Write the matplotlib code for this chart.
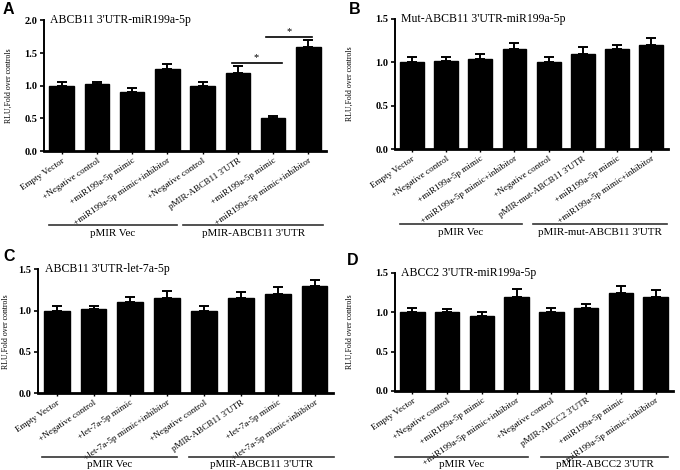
import matplotlib
matplotlib.use("Agg")
import matplotlib.pyplot as plt
import matplotlib.transforms as mtransforms

# ---------------- data ----------------
labels_A = ["Empty Vector", "+Negative control", "+miR199a-5p mimic", "+miR199a-5p mimic+inhibitor",
            "+Negative control", "pMIR-ABCB11 3'UTR", "+miR199a-5p mimic", "+miR199a-5p mimic+inhibitor"]
values_A = [1.0, 1.02, 0.9, 1.25, 1.0, 1.2, 0.5, 1.6]
errors_A = [0.06, 0.04, 0.06, 0.09, 0.06, 0.1, 0.03, 0.1]

labels_B = ["Empty Vector", "+Negative control", "+miR199a-5p mimic", "+miR199a-5p mimic+inhibitor",
            "+Negative control", "pMIR-mut-ABCB11 3'UTR", "+miR199a-5p mimic", "+miR199a-5p mimic+inhibitor"]
values_B = [1.0, 1.015, 1.04, 1.15, 1.0, 1.1, 1.15, 1.2]
errors_B = [0.055, 0.04, 0.06, 0.07, 0.06, 0.08, 0.05, 0.075]

labels_C = ["Empty Vector", "+Negative control", "+let-7a-5p mimic", "+let-7a-5p mimic+inhibitor",
            "+Negative control", "pMIR-ABCB11 3'UTR", "+let-7a-5p mimic", "+let-7a-5p mimic+inhibitor"]
values_C = [1.0, 1.02, 1.1, 1.155, 1.0, 1.155, 1.2, 1.3]
errors_C = [0.06, 0.04, 0.06, 0.08, 0.06, 0.065, 0.08, 0.075]

labels_D = ["Empty Vector", "+Negative control", "+miR199a-5p mimic", "+miR199a-5p mimic+inhibitor",
            "+Negative control", "pMIR-ABCC2 3'UTR", "+miR199a-5p mimic", "+miR199a-5p mimic+inhibitor"]
values_D = [1.0, 1.0, 0.95, 1.2, 1.0, 1.05, 1.25, 1.2]
errors_D = [0.06, 0.04, 0.055, 0.09, 0.05, 0.06, 0.09, 0.085]

titles = ["ABCB11 3'UTR-miR199a-5p", "Mut-ABCB11 3'UTR-miR199a-5p",
          "ABCB11 3'UTR-let-7a-5p", "ABCC2 3'UTR-miR199a-5p"]
groups_A = ["pMIR Vec", "pMIR-ABCB11 3'UTR"]
groups_B = ["pMIR Vec", "pMIR-mut-ABCB11 3'UTR"]
groups_C = ["pMIR Vec", "pMIR-ABCB11 3'UTR"]
groups_D = ["pMIR Vec", "pMIR-ABCC2 3'UTR"]
panel_letters = ["A", "B", "C", "D"]
ylabel = "RLU,Fold over controls"

# ---------------- figure ----------------
fig = plt.figure(figsize=(6.8, 4.7), dpi=100)
SERIF = ["Liberation Serif", "DejaVu Serif"]

panels = [
    dict(rect=[0.0647, 0.6787, 0.4147, 0.2779], labels=labels_A, vals=values_A, errs=errors_A,
         ymax=2.0, groups=groups_A, gl=[(-0.37, 3.26), (3.45, 7.42)], gy=-0.567, gty=-0.63,
         ylx=-0.11, title=titles[0]),
    dict(rect=[0.5809, 0.6823, 0.4015, 0.2779], labels=labels_B, vals=values_B, errs=errors_B,
         ymax=1.5, groups=groups_B, gl=[(-0.36, 3.21), (3.55, 7.46)], gy=-0.572, gty=-0.64,
         ylx=-0.15, title=titles[1]),
    dict(rect=[0.0563, 0.1632, 0.4334, 0.2638], labels=labels_C, vals=values_C, errs=errors_C,
         ymax=1.5, groups=groups_C, gl=[(-0.40, 3.27), (3.59, 7.53)], gy=-0.511, gty=-0.575,
         ylx=-0.098, title=titles[2]),
    dict(rect=[0.5809, 0.1681, 0.4088, 0.2511], labels=labels_D, vals=values_D, errs=errors_D,
         ymax=1.5, groups=groups_D, gl=[(-0.5, 3.32), (3.69, 7.37)], gy=-0.559, gty=-0.625,
         ylx=-0.15, title=titles[3]),
]

axes = []
for p in panels:
    ax = fig.add_axes(p["rect"])
    axes.append(ax)
    x = list(range(len(p["vals"])))
    ax.bar(x, p["vals"], width=0.7, color="black", edgecolor="black", zorder=2)
    ax.errorbar(x, p["vals"], yerr=[[0] * len(x), p["errs"]], fmt="none", ecolor="black",
                elinewidth=1.4, capsize=3.6, capthick=1.4, zorder=3)
    ax.set_xlim(-0.5, 7.5)
    ax.set_ylim(0, p["ymax"])
    yt = [i * 0.5 for i in range(int(round(p["ymax"] / 0.5)) + 1)]
    ax.set_yticks(yt)
    ax.set_yticklabels([f"{v:.1f}" for v in yt], fontfamily=SERIF, fontweight="bold", fontsize=7.5)
    ax.set_xticks(x)
    ax.set_xticklabels(p["labels"], rotation=34, ha="right", va="top", rotation_mode="anchor",
                       fontfamily=SERIF, fontsize=6.6)
    ax.tick_params(axis="x", length=2.5, width=1.0, pad=1.5)
    ax.tick_params(axis="y", length=3, width=1.2, pad=2)
    for s in ["top", "right"]:
        ax.spines[s].set_visible(False)
    ax.spines["left"].set_linewidth(1.4)
    ax.spines["bottom"].set_linewidth(2.0)
    ax.set_ylabel(ylabel, fontfamily=SERIF, fontsize=5.6)
    ax.yaxis.set_label_coords(p["ylx"], 0.5)
    ax.text(0.022, 1.0, p["title"], transform=ax.transAxes, ha="left", va="center",
            fontfamily=SERIF, fontsize=8.5)
    trans = mtransforms.blended_transform_factory(ax.transData, ax.transAxes)
    for (x0, x1), g in zip(p["gl"], p["groups"]):
        ax.plot([x0, x1], [p["gy"], p["gy"]], transform=trans, color="#333333", lw=1.2,
                clip_on=False)
        ax.text((x0 + x1) / 2, p["gty"], g, transform=trans, ha="center", va="center",
                fontfamily=SERIF, fontsize=7.9)

# significance markers in panel A
axA = axes[0]
for (x0, x1, y) in [(4.82, 6.24, 1.35), (5.81, 7.09, 1.74)]:
    axA.plot([x0, x1], [y, y], color="black", lw=1.2, clip_on=False)
    axA.text((x0 + x1) / 2, y + 0.015, "*", ha="center", va="bottom", fontsize=7.5,
             fontfamily=SERIF)

# panel letters
for (lx, ly), letter in zip([(3, 2), (349, 2), (3, 249), (347, 253)], panel_letters):
    fig.text(lx / 680, 1 - ly / 470, letter, ha="left", va="top", fontsize=11.5,
             fontweight="bold", fontfamily=["Liberation Sans", "DejaVu Sans"])

fig.savefig("out.png", dpi=100)
